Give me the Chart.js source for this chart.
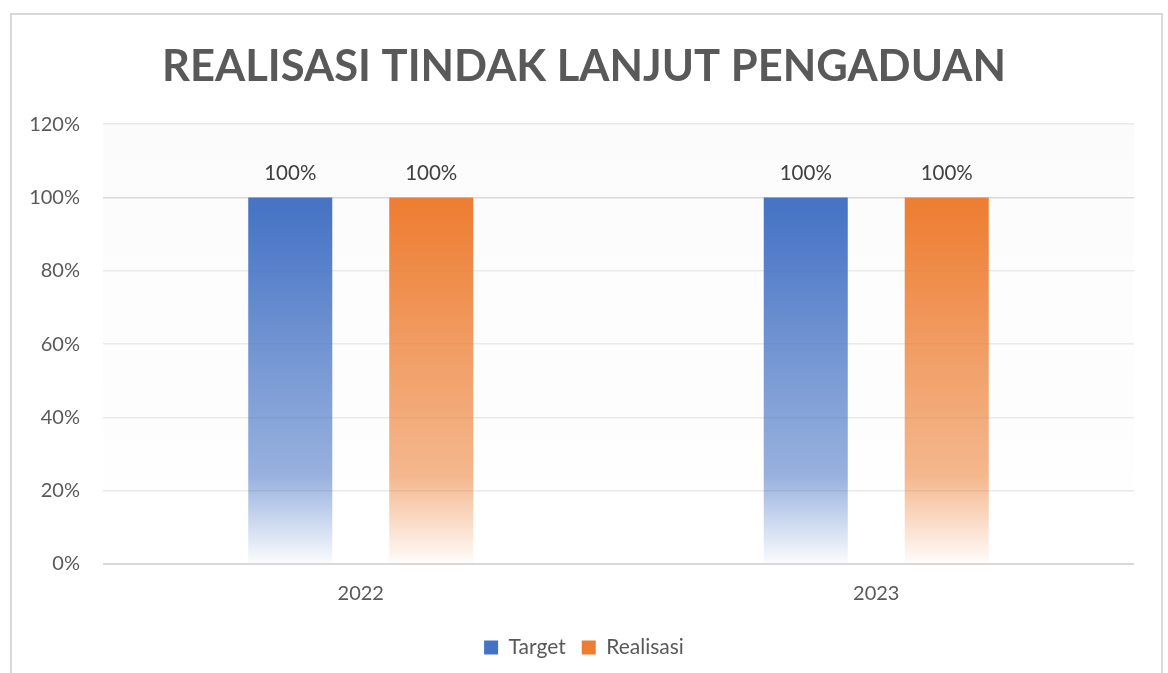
<!DOCTYPE html>
<html>
<head>
<meta charset="utf-8">
<script src="https://cdn.jsdelivr.net/npm/chart.js@4.4.1/dist/chart.umd.min.js"></script>
<style>
  html, body { margin: 0; padding: 0; background: #ffffff; }
  #wrap { position: absolute; left: 0; top: 0; width: 1168px; height: 673px; }
</style>
</head>
<body>
<div id="wrap"><canvas id="c" width="1168" height="673"></canvas></div>
<script>
const titleText = 'REALISASI TINDAK LANJUT PENGADUAN';
const categories = ['2022', '2023'];
const targetValues = [100, 100];
const realisasiValues = [100, 100];
const yTicks = [0, 20, 40, 60, 80, 100, 120];
const seriesNames = ['Target', 'Realisasi'];
const seriesColors = ['#4472C4', '#ED7D31'];

function hexToRgb(h) {
  const n = parseInt(h.slice(1), 16);
  return [(n >> 16) & 255, (n >> 8) & 255, n & 255];
}
function makeGradient(ctx, area, hex) {
  const [r, g, b] = hexToRgb(hex);
  const gr = ctx.createLinearGradient(0, area.top, 0, area.bottom);
  gr.addColorStop(0, `rgba(${r},${g},${b},1)`);
  gr.addColorStop(0.2, `rgba(${r},${g},${b},0.98)`);
  gr.addColorStop(0.55, `rgba(${r},${g},${b},0.72)`);
  gr.addColorStop(0.8, `rgba(${r},${g},${b},0.55)`);
  gr.addColorStop(1, `rgba(${r},${g},${b},0.02)`);
  return gr;
}
function gradientFor(idx) {
  return function (context) {
    const chart = context.chart;
    const { ctx, chartArea } = chart;
    if (!chartArea) return seriesColors[idx];
    return makeGradient(ctx, chartArea, seriesColors[idx]);
  };
}

const frameAndBg = {
  id: 'frameAndBg',
  beforeDraw(chart) {
    const { ctx, chartArea } = chart;
    ctx.save();
    ctx.strokeStyle = '#d9d9d9';
    ctx.lineWidth = 2;
    ctx.strokeRect(11, 14, 1151, 700);
    const y20 = chart.scales.y.getPixelForValue(20);
    const g = ctx.createLinearGradient(0, chartArea.top, 0, y20);
    g.addColorStop(0, '#fbfbfb');
    g.addColorStop(1, '#fefefe');
    ctx.fillStyle = g;
    ctx.fillRect(chartArea.left, chartArea.top, chartArea.right - chartArea.left, y20 - chartArea.top);
    ctx.restore();
  }
};

const valueLabels = {
  id: 'valueLabels',
  afterDatasetsDraw(chart) {
    const { ctx } = chart;
    ctx.save();
    ctx.font = '20.5px Lato';
    ctx.fillStyle = '#404040';
    ctx.textAlign = 'center';
    ctx.textBaseline = 'middle';
    chart.data.datasets.forEach((ds, di) => {
      const meta = chart.getDatasetMeta(di);
      meta.data.forEach((bar, i) => {
        ctx.fillText(ds.data[i] + '%', bar.x, bar.y - 24);
      });
    });
    ctx.restore();
  }
};

new Chart(document.getElementById('c'), {
  type: 'bar',
  data: {
    labels: categories,
    datasets: [
      { label: seriesNames[0], data: targetValues, backgroundColor: gradientFor(0), borderWidth: 0,
        categoryPercentage: 0.547, barPercentage: 0.596 },
      { label: seriesNames[1], data: realisasiValues, backgroundColor: gradientFor(1), borderWidth: 0,
        categoryPercentage: 0.547, barPercentage: 0.596 }
    ]
  },
  options: {
    responsive: false,
    animation: false,
    devicePixelRatio: 1,
    layout: { padding: { left: 22, right: 22, top: 0, bottom: 5 } },
    plugins: {
      title: {
        display: true,
        text: titleText,
        color: '#595959',
        font: { family: 'Lato', size: 43.5, weight: 'bold' },
        padding: { top: 41, bottom: 31 }
      },
      legend: {
        position: 'bottom',
        labels: {
          color: '#595959',
          font: { family: 'Lato', size: 21 },
          boxWidth: 14,
          boxHeight: 14,
          padding: 16,
          generateLabels(chart) {
            const items = Chart.defaults.plugins.legend.labels.generateLabels(chart);
            items.forEach((it, i) => {
              it.fillStyle = seriesColors[i];
              it.strokeStyle = seriesColors[i];
              it.lineWidth = 0;
            });
            return items;
          }
        }
      },
      tooltip: { enabled: false }
    },
    scales: {
      x: {
        afterFit(scale) { scale.height = 57; },
        grid: { display: false, drawTicks: false },
        border: { display: false },
        ticks: { color: '#595959', font: { family: 'Lato', size: 20 }, padding: 18 }
      },
      y: {
        min: 0,
        max: 120,
        afterBuildTicks(scale) { scale.ticks = yTicks.map(v => ({ value: v })); },
        afterFit(scale) { scale.width = 81; },
        grid: {
          drawTicks: false,
          color: ctx => (ctx.tick && (ctx.tick.value === 0 || ctx.tick.value === 100)) ? '#d9d9d9' : '#e9e9e9',
          lineWidth: ctx => (ctx.tick && ctx.tick.value === 0) ? 2 : 1.5
        },
        border: { display: false },
        ticks: {
          color: '#595959',
          font: { family: 'Lato', size: 20 },
          padding: 23,
          callback: v => v + '%'
        }
      },
      yRight: {
        position: 'right',
        min: 0,
        max: 120,
        afterFit(scale) { scale.width = 12; },
        grid: { display: false, drawTicks: false },
        border: { display: false },
        ticks: { display: false }
      }
    }
  },
  plugins: [frameAndBg, valueLabels]
});
</script>
</body>
</html>
